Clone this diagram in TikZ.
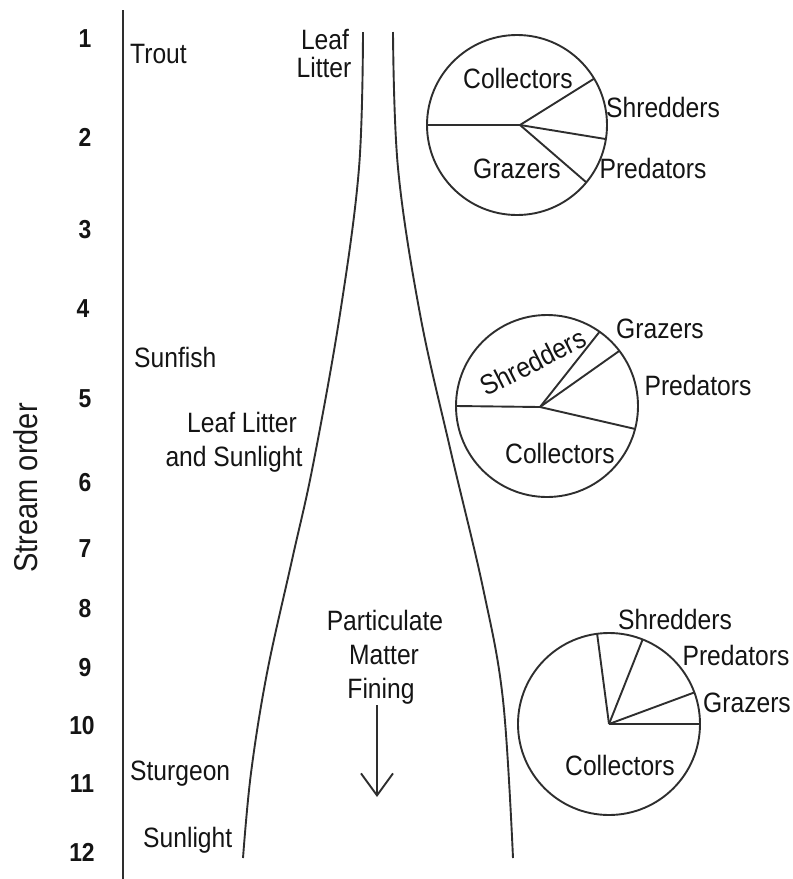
\documentclass[tikz,border=0pt]{standalone}
\usepackage{fontspec}
\setmainfont[FakeStretch=0.88]{Liberation Sans}
\usetikzlibrary{arrows.meta}
\begin{document}
\begin{tikzpicture}[x=1pt,y=-1pt,
  lbl/.style={inner sep=0pt, anchor=base, text=black!92, font=\fontsize{28}{32}\selectfont},
  lblw/.style={lbl, anchor=base west},
  num/.style={inner sep=0pt, anchor=base, text=black!92, font=\fontsize{26}{30}\selectfont\bfseries},
  ln/.style={line width=1.9pt, draw=black!82},
]
\useasboundingbox (0,0) rectangle (793,879);

% axis
\coordinate (axT) at (123,10);
\coordinate (axB) at (123,879);
\draw[ln, line width=2.1pt] (axT) -- (axB);
\node[inner sep=0pt, rotate=90, text=black!90, font=\fontsize{33}{36}\selectfont] (so) at (26,488) {Stream order};

% stream order numbers
\node[num] (n1) at (85,47) {1};
\node[num] (n2) at (85,146) {2};
\node[num] (n3) at (85,238) {3};
\node[num] (n4) at (83,317) {4};
\node[num] (n5) at (85,407) {5};
\node[num] (n6) at (85,491) {6};
\node[num] (n7) at (85,557) {7};
\node[num] (n8) at (85,617) {8};
\node[num] (n9) at (85,676) {9};
\node[num] (n10) at (82,734) {10};
\node[num] (n11) at (82,792) {11};
\node[num] (n12) at (82,861) {12};

% fish and light labels
\node[lblw] (trout) at (130,63) {Trout};
\node[lblw] (sunfish) at (134,367) {Sunfish};
\node[lblw] (sturgeon) at (130,780) {Sturgeon};
\node[lblw] (sunl) at (143,847) {Sunlight};
\node[lbl] (leaf1) at (325,49) {Leaf};
\node[lbl] (leaf2) at (324,77) {Litter};
\node[lbl] (lls1) at (242,432) {Leaf Litter};
\node[lbl] (lls2) at (234,466) {and Sunlight};

% stream banks
\draw[ln] plot[smooth, tension=0.6] coordinates {(363,32) (359,168) (340,314) (313,465) (292,560) (267,673) (251,773) (243,858)};
\draw[ln] plot[smooth, tension=0.6] coordinates {(393,32) (398,168) (420,314) (450,448) (483,588) (503,700) (513,858)};

% particulate matter
\node[lbl] (pm1) at (385,630) {Particulate};
\node[lbl] (pm2) at (384,664) {Matter};
\node[lbl] (pm3) at (381,698) {Fining};
\coordinate (arS) at (377,705);
\coordinate (arE) at (377,797);
\draw[ln, -{Straight Barb[length=22pt,width=32pt]}] (arS) -- (arE);

% pie 1
\coordinate (p1c) at (517,125);
\coordinate (p1h) at (520,125);
\draw[ln] (p1c) circle[radius=90pt];
\foreach \a in {180,31,-9,-39.6} \draw[ln] (p1h) -- ([shift={(\a:90pt)}]p1c);
\node[lbl] (c1) at (518,88) {Collectors};
\node[lbl] (s1) at (663,117) {Shredders};
\node[lbl] (g1) at (517,178) {Grazers};
\node[lbl] (pr1) at (653,178) {Predators};

% pie 2
\coordinate (p2c) at (547,406);
\coordinate (p2h) at (540,407);
\draw[ln] (p2c) circle[radius=91pt];
\foreach \a in {180,54.7,37.3,-14.6} \draw[ln] (p2h) -- ([shift={(\a:91pt)}]p2c);
\node[inner sep=0pt, rotate=27, text=black!92, font=\fontsize{28}{32}\selectfont] (s2) at (533,362) {Shredders};
\node[lbl] (g2) at (660,338) {Grazers};
\node[lbl] (pr2) at (698,395) {Predators};
\node[lbl] (c2) at (560,463) {Collectors};

% pie 3
\coordinate (p3c) at (609,724);
\draw[ln] (p3c) circle[radius=91pt];
\foreach \a in {97.5,68.3,20.3,0} \draw[ln] (p3c) -- ([shift={(\a:91pt)}]p3c);
\node[lbl] (s3) at (675,629) {Shredders};
\node[lbl] (pr3) at (736,665) {Predators};
\node[lbl] (g3) at (747,712) {Grazers};
\node[lbl] (c3) at (620,775) {Collectors};
\end{tikzpicture}
\end{document}
